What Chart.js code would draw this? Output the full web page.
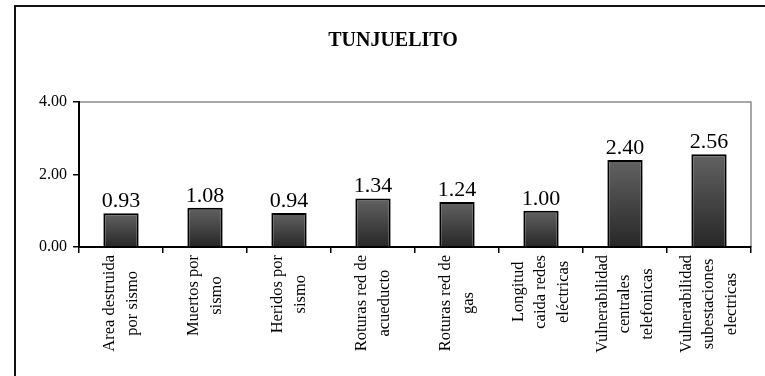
<!DOCTYPE html>
<html>
<head>
<meta charset="utf-8">
<script src="https://cdn.jsdelivr.net/npm/chart.js@4/dist/chart.umd.min.js"></script>
<style>
  html, body { margin: 0; padding: 0; background: #fff; }
  #wrap { width: 765px; height: 376px; }
</style>
</head>
<body>
<div id="wrap"><canvas id="tunjChart" width="765" height="376"></canvas></div>
<script>
const titulo = "TUNJUELITO";

const categorias = [
  ["Area destruida", "por sismo"],
  ["Muertos por", "sismo"],
  ["Heridos por", "sismo"],
  ["Roturas red de", "acueducto"],
  ["Roturas red de", "gas"],
  ["Longitud", "caida redes", "eléctricas"],
  ["Vulnerabilidad", "centrales", "telefonicas"],
  ["Vulnerabilidad", "subestaciones", "electricas"]
];

const valores = [0.93, 1.08, 0.94, 1.34, 1.24, 1.00, 2.40, 2.56];

const ejeY = { min: 0, max: 4, paso: 2 };

const serif = "'Liberation Serif', 'Times New Roman', serif";

// marco exterior, titulo y borde gris del area de trazado
const marcoPlugin = {
  id: "marco",
  beforeDraw(chart) {
    const ctx = chart.ctx;
    const a = chart.chartArea;
    ctx.save();
    ctx.strokeStyle = "#111";
    ctx.lineWidth = 2;
    ctx.beginPath();
    ctx.moveTo(15, 376);
    ctx.lineTo(15, 6);
    ctx.lineTo(765, 6);
    ctx.stroke();

    ctx.strokeStyle = "#8c8c8c";
    ctx.lineWidth = 1.5;
    ctx.beginPath();
    ctx.moveTo(a.left, a.top);
    ctx.lineTo(a.right, a.top);
    ctx.lineTo(a.right, a.bottom);
    ctx.stroke();

    ctx.fillStyle = "#000";
    ctx.font = "bold 20px " + serif;
    ctx.textAlign = "center";
    ctx.textBaseline = "middle";
    ctx.fillText(titulo, 393, 41);
    ctx.restore();
  }
};

// valores encima de las barras y etiquetas verticales centradas
const etiquetasPlugin = {
  id: "etiquetas",
  afterDatasetsDraw(chart) {
    const ctx = chart.ctx;
    const meta = chart.getDatasetMeta(0);
    const x = chart.scales.x;
    const base = chart.chartArea.bottom;
    ctx.save();
    ctx.fillStyle = "#000";
    ctx.font = "22px " + serif;
    ctx.textAlign = "center";
    ctx.textBaseline = "alphabetic";
    meta.data.forEach((bar, i) => {
      ctx.fillText(valores[i].toFixed(2), bar.x, bar.y - 6);
    });

    ctx.font = "16.5px " + serif;
    ctx.textBaseline = "middle";
    const interlinea = 22.5;
    categorias.forEach((lineas, i) => {
      const cx = x.getPixelForValue(i);
      const ancho = Math.max(...lineas.map(l => ctx.measureText(l).width));
      const cy = base + 8 + ancho / 2;
      lineas.forEach((l, j) => {
        const dx = (j - (lineas.length - 1) / 2) * interlinea;
        ctx.save();
        ctx.translate(cx + dx, cy);
        ctx.rotate(-Math.PI / 2);
        ctx.fillText(l, 0, 0);
        ctx.restore();
      });
    });
    ctx.restore();
  }
};

const ctx = document.getElementById("tunjChart").getContext("2d");

new Chart(ctx, {
  type: "bar",
  data: {
    labels: categorias.map(c => c.join(" ")),
    datasets: [{
      data: valores,
      backgroundColor: (c) => {
        const chart = c.chart;
        if (!chart.chartArea || c.dataIndex === undefined) return "#444";
        const y = chart.scales.y;
        const top = y.getPixelForValue(valores[c.dataIndex]);
        const bottom = y.getPixelForValue(0);
        const g = chart.ctx.createLinearGradient(0, top, 0, bottom);
        g.addColorStop(0, "#626262");
        g.addColorStop(1, "#272727");
        return g;
      },
      borderColor: "#000",
      borderWidth: 2,
      barPercentage: 0.42,
      categoryPercentage: 1
    }]
  },
  options: {
    responsive: false,
    animation: false,
    layout: { padding: { top: 102, right: 14, left: 0, bottom: 0 } },
    plugins: {
      legend: { display: false },
      title: { display: false },
      tooltip: { enabled: false }
    },
    scales: {
      x: {
        offset: true,
        grid: {
          offset: true,
          drawOnChartArea: false,
          drawTicks: true,
          tickLength: 6,
          color: "#000",
          lineWidth: 1.5
        },
        border: { color: "#000", width: 2 },
        ticks: { display: false },
        afterFit: (s) => { s.height = 129; }
      },
      y: {
        min: ejeY.min,
        max: ejeY.max,
        grid: {
          drawOnChartArea: false,
          drawTicks: true,
          tickLength: 6,
          color: "#000",
          lineWidth: 1.5
        },
        border: { color: "#000", width: 2 },
        ticks: {
          stepSize: ejeY.paso,
          color: "#000",
          padding: 6,
          font: { family: serif, size: 16 },
          callback: v => v.toFixed(2)
        },
        afterFit: (s) => { s.width = 79; }
      }
    }
  },
  plugins: [marcoPlugin, etiquetasPlugin]
});
</script>
</body>
</html>
